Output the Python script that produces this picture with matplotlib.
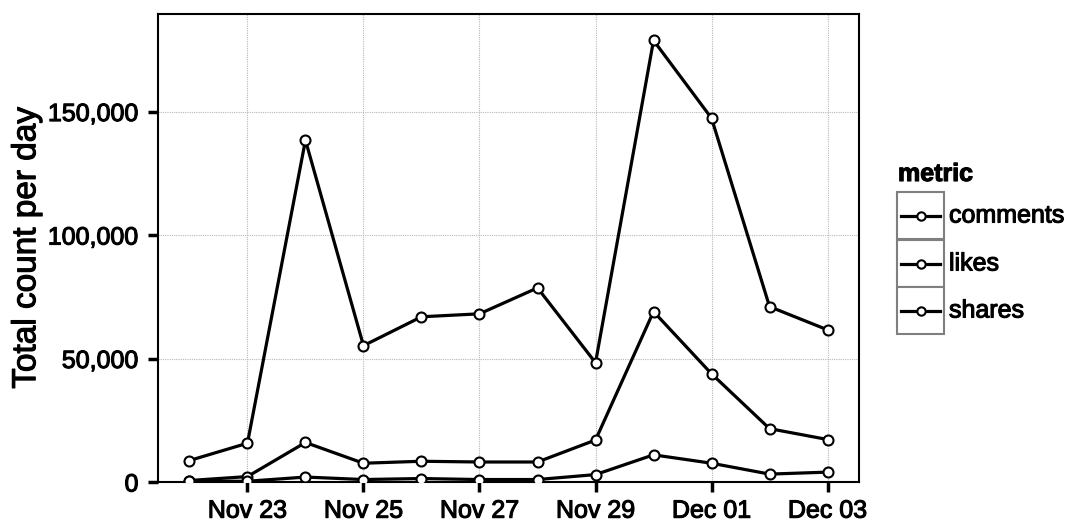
import matplotlib
matplotlib.use("Agg")
import matplotlib.pyplot as plt
import matplotlib.dates as mdates
import matplotlib.patheffects as pe
from matplotlib.patches import Rectangle
from matplotlib.lines import Line2D
from matplotlib.ticker import FuncFormatter, MultipleLocator
import numpy as np
import pandas as pd

plt.rcParams['font.family'] = ['Liberation Sans', 'DejaVu Sans']

dates = pd.date_range("2014-11-22", "2014-12-03", freq="D")
likes = [8700, 15700, 138400, 55200, 66900, 68100, 78600, 48300, 178800, 147300, 71000, 61600]
comments = [600, 2200, 16000, 7600, 8400, 8100, 8100, 17000, 69000, 43800, 21600, 17200]
shares = [300, 300, 2000, 1000, 1400, 1000, 1000, 3000, 11000, 7600, 3200, 4000]
legend_labels = ["comments", "likes", "shares"]

heavy = [pe.withStroke(linewidth=0.8, foreground="black")]

W, H = 1072, 525
fig = plt.figure(figsize=(W / 100, H / 100), dpi=100)
ax = fig.add_axes([158 / W, 1 - 482 / H, (859 - 158) / W, (482 - 14) / H])

for ser in (likes, comments, shares):
    ax.plot(dates, ser, color="black", lw=2.3, marker="o", ms=7.2,
            mfc="white", mec="black", mew=1.5, zorder=3)

ax.set_xlim(dates[0] - pd.Timedelta(hours=13), dates[-1] + pd.Timedelta(hours=13))
ax.set_ylim(0, 189500)
ax.xaxis.set_major_locator(mdates.DayLocator(bymonthday=[23, 25, 27, 29, 1, 3]))
ax.xaxis.set_major_formatter(mdates.DateFormatter("%b %d"))
ax.yaxis.set_major_locator(MultipleLocator(50000))
ax.yaxis.set_major_formatter(FuncFormatter(lambda v, p: f"{int(v):,}"))

ax.grid(True, color="#b8b8b8", lw=0.8, ls=(0, (1, 1)))
ax.set_axisbelow(True)
for s in ax.spines.values():
    s.set_linewidth(1.5)
    s.set_color("black")
ax.tick_params(axis="both", direction="out", length=7, width=2.5, color="black",
               labelsize=18, labelcolor="black")
ax.tick_params(axis="x", pad=5)
ax.tick_params(axis="y", pad=7)
for t in ax.get_xticklabels() + ax.get_yticklabels():
    t.set_path_effects(heavy)
ax.set_ylabel("Total count per day", fontsize=24, labelpad=4, path_effects=heavy)

# legend drawn by hand (ggplot-style boxed keys)
def px(x, y):
    return x / W, 1 - y / H

fig.text(*px(898, 174), "metric", fontsize=18, fontweight="bold", va="center",
         ha="left", path_effects=heavy)
tops = [192, 240, 287]
for lab, top in zip(legend_labels, tops):
    bx0, by0 = px(897, top + 47)
    fig.add_artist(Rectangle((bx0, by0), 47 / W, 47 / H, transform=fig.transFigure,
                             facecolor="white", edgecolor="#7f7f7f", lw=1.5))
    cy = top + 23.5
    x0, yy = px(901, cy)
    x1, _ = px(940, cy)
    fig.add_artist(Line2D([x0, x1], [yy, yy], transform=fig.transFigure,
                          color="black", lw=2.3))
    fig.add_artist(Line2D([(x0 + x1) / 2], [yy], transform=fig.transFigure,
                          marker="o", ms=6, mfc="white", mec="black", mew=1.5))
    fig.text(*px(949, cy), lab, fontsize=18, va="center", ha="left", path_effects=heavy)

fig.savefig("out.png", dpi=100)
